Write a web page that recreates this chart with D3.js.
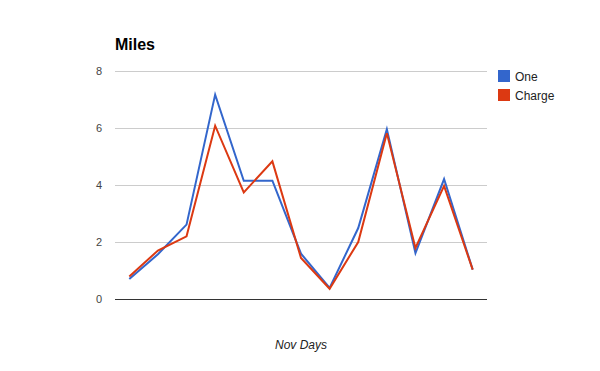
<!DOCTYPE html>
<html>
<head>
<meta charset="utf-8">
<script src="https://cdn.jsdelivr.net/npm/d3@7"></script>
<style>
  body { margin: 0; background: #fff; }
  svg { font-family: "Liberation Sans", Arial, sans-serif; }
</style>
</head>
<body>
<div id="chart"></div>
<script>
// Nov days (axis labels are hidden in the original)
const days = ["1", "2", "3", "4", "5", "6", "7", "8", "9", "10", "11", "12", "13"]
const seriesNames = ["One", "Charge"]
const one = [0.7, 1.57, 2.61, 7.17, 4.15, 4.15, 1.59, 0.39, 2.49, 5.96, 1.61, 4.21, 1.03]
const charge = [0.79, 1.7, 2.2, 6.08, 3.74, 4.83, 1.44, 0.36, 2.0, 5.82, 1.79, 3.97, 1.03]
const yTicks = [0, 2, 4, 6, 8]
const colors = ["#3366cc", "#dc3912"]

const width = 600, height = 371
const margin = { top: 71, right: 113, bottom: 72, left: 115 }
const plotW = width - margin.left - margin.right
const plotH = height - margin.top - margin.bottom

const svg = d3.select("#chart").append("svg")
  .attr("width", width)
  .attr("height", height)

const x = d3.scalePoint().domain(days).range([margin.left, margin.left + plotW]).padding(0.5)
const y = d3.scaleLinear().domain([0, 8]).range([margin.top + plotH, margin.top])

// gridlines + y labels
const yAxis = svg.append("g")
  .attr("transform", "translate(" + margin.left + ",0)")
  .call(d3.axisLeft(y).tickValues(yTicks).tickSize(-plotW).tickPadding(13))
yAxis.select(".domain").remove()
yAxis.selectAll("line").attr("stroke", d => d === 0 ? "#333" : "#ccc")
yAxis.selectAll("text").attr("fill", "#444").attr("font-size", 11)
  .attr("font-family", "Liberation Sans, Arial, sans-serif")

// lines
const series = [one, charge]
const line = d3.line()
  .x((d, i) => x(days[i]))
  .y(d => y(d))

series.forEach((s, k) => {
  svg.append("path")
    .datum(s)
    .attr("fill", "none")
    .attr("stroke", colors[k])
    .attr("stroke-width", 2)
    .attr("stroke-linejoin", "miter")
    .attr("d", line)
})

// title
svg.append("text")
  .attr("x", margin.left)
  .attr("y", 50)
  .attr("font-size", 16)
  .attr("font-weight", "bold")
  .attr("fill", "#000")
  .text("Miles")

// x axis title
svg.append("text")
  .attr("x", margin.left + plotW / 2)
  .attr("y", 349)
  .attr("text-anchor", "middle")
  .attr("font-size", 12)
  .attr("font-style", "italic")
  .attr("fill", "#222")
  .text("Nov Days")

// legend
const legend = svg.append("g").attr("transform", "translate(498,70)")
seriesNames.forEach((name, k) => {
  const g = legend.append("g").attr("transform", "translate(0," + k * 19 + ")")
  g.append("rect").attr("width", 12).attr("height", 12).attr("fill", colors[k])
  g.append("text").attr("x", 17).attr("y", 10.5)
    .attr("font-size", 12).attr("fill", "#222").text(name)
})
</script>
</body>
</html>
